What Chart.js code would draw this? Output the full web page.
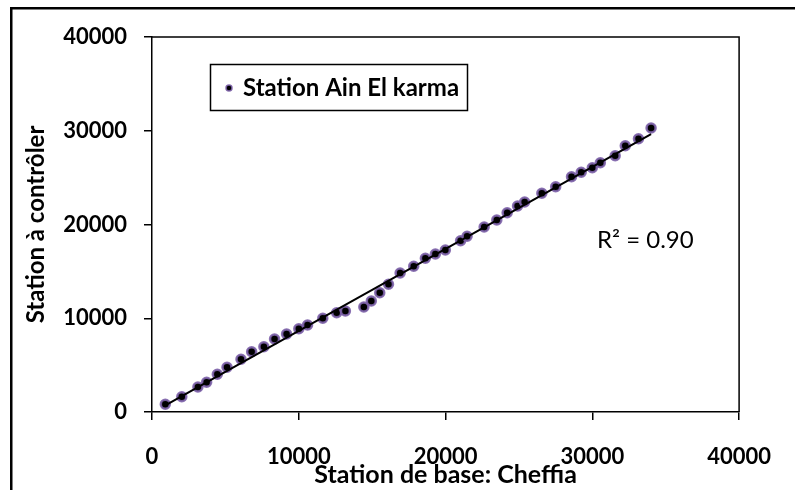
<!DOCTYPE html>
<html>
<head>
<meta charset="utf-8">
<script src="https://cdn.jsdelivr.net/npm/chart.js@4.4.1/dist/chart.umd.min.js"></script>
<style>
html, body { margin: 0; padding: 0; background: #fff; }
canvas { display: block; }
</style>
</head>
<body>
<canvas id="scatterChart" width="795" height="490"></canvas>
<script>
// values
const baseStation = [906, 2030, 3127, 3722, 4450, 5111, 6063, 6790, 7623, 8350,
    9170, 10003, 10598, 11636, 12582, 13177, 14433, 14942, 15517, 16112,
    16906, 17831, 18625, 19306, 19987, 21025, 21468, 22631, 23491, 24198,
    24906, 25388, 26559, 27504, 28582, 29243, 29997, 30545, 31557, 32245,
    33144, 34003];
const controlStation = [821, 1630, 2667, 3168, 4021, 4768, 5621, 6432, 6965, 7787,
    8320, 8885, 9280, 9995, 10592, 10773, 11200, 11840, 12725, 13621,
    14827, 15541, 16395, 16853, 17280, 18272, 18741, 19733, 20480, 21259,
    21973, 22400, 23328, 24032, 25099, 25568, 26059, 26592, 27339, 28405,
    29152, 30293];
const trendX = [906, 34003];
const trendY = [700, 29650];
const xTicks = [0, 10000, 20000, 30000, 40000];
const yTicks = [0, 10000, 20000, 30000, 40000];
const seriesName = 'Station Ain El karma';
const r2Label = 'R² = 0.90';

const FONT = 'Lato, "Noto Sans", sans-serif';
const HALO = 'rgba(125, 98, 170, 0.9)';

const framePlugin = {
    id: 'frame',
    beforeDraw(chart) {
        const ctx = chart.ctx;
        ctx.save();
        ctx.fillStyle = '#fff';
        ctx.fillRect(0, 0, chart.width, chart.height);
        // outer border (left and top only visible)
        ctx.fillStyle = '#000';
        ctx.fillRect(10, 7, 2.5, chart.height);
        ctx.fillRect(10, 7, chart.width, 2.5);
        ctx.restore();
    },
    afterDraw(chart) {
        const { ctx, chartArea: a } = chart;
        ctx.save();
        ctx.strokeStyle = '#000';
        ctx.lineWidth = 1.5;
        ctx.beginPath();
        ctx.moveTo(a.left, a.top);
        ctx.lineTo(a.right, a.top);
        ctx.lineTo(a.right, a.bottom);
        ctx.stroke();

        // legend box
        ctx.lineWidth = 1.5;
        ctx.strokeRect(210.5, 64.5, 257, 46);
        ctx.beginPath();
        ctx.arc(229, 88, 3, 0, Math.PI * 2);
        ctx.fillStyle = '#000';
        ctx.fill();
        ctx.lineWidth = 1.5;
        ctx.strokeStyle = HALO;
        ctx.stroke();
        ctx.fillStyle = '#000';
        ctx.font = 'bold 24px ' + FONT;
        ctx.textBaseline = 'middle';
        ctx.textAlign = 'left';
        ctx.fillText(chart.data.datasets[1].label, 243, 88);

        // R² annotation
        ctx.font = '24px ' + FONT;
        ctx.fillText(r2Label, 597, 240);
        ctx.restore();
    }
};

const ctx = document.getElementById('scatterChart').getContext('2d');
const chart = new Chart(ctx, {
    type: 'scatter',
    data: {
        datasets: [{
            label: 'Trend',
            data: trendX.map((x, i) => ({ x: x, y: trendY[i] })),
            showLine: true,
            borderColor: '#000',
            borderWidth: 2,
            pointRadius: 0,
            order: 0
        }, {
            label: seriesName,
            data: baseStation.map((x, i) => ({ x: x, y: controlStation[i] })),
            backgroundColor: '#000',
            borderColor: HALO,
            borderWidth: 2.5,
            pointRadius: 4.5,
            order: 1
        }]
    },
    options: {
        responsive: false,
        animation: false,
        layout: {
            padding: { top: 37, right: 38, left: 0, bottom: 0 }
        },
        plugins: {
            legend: { display: false },
            tooltip: { enabled: false }
        },
        scales: {
            x: {
                type: 'linear',
                min: 0,
                max: 40000,
                afterBuildTicks: s => { s.ticks = xTicks.map(v => ({ value: v })); },
                afterFit: s => { s.height = 78; },
                border: { color: '#000', width: 1.5 },
                grid: { drawOnChartArea: false, tickLength: 8, color: '#000', lineWidth: 1.5 },
                ticks: {
                    color: '#000',
                    padding: 24,
                    maxRotation: 0,
                    callback: v => String(v),
                    font: { family: FONT, size: 22, weight: 'bold' }
                },
                title: {
                    display: true,
                    text: 'Station de base: Cheffia',
                    color: '#000',
                    padding: { top: 0, bottom: 0 },
                    font: { family: FONT, size: 25, weight: 'bold' }
                }
            },
            y: {
                type: 'linear',
                min: 0,
                max: 40000,
                afterBuildTicks: s => { s.ticks = yTicks.map(v => ({ value: v })); },
                afterFit: s => { s.width = 152; },
                border: { color: '#000', width: 1.5 },
                grid: { drawOnChartArea: false, tickLength: 8, color: '#000', lineWidth: 1.5 },
                ticks: {
                    color: '#000',
                    padding: 17,
                    callback: v => String(v),
                    font: { family: FONT, size: 22, weight: 'bold' }
                },
                title: {
                    display: true,
                    text: 'Station à contrôler',
                    color: '#000',
                    padding: { top: 22, bottom: 0 },
                    font: { family: FONT, size: 24, weight: 'bold' }
                }
            }
        }
    },
    plugins: [framePlugin]
});
</script>
</body>
</html>
